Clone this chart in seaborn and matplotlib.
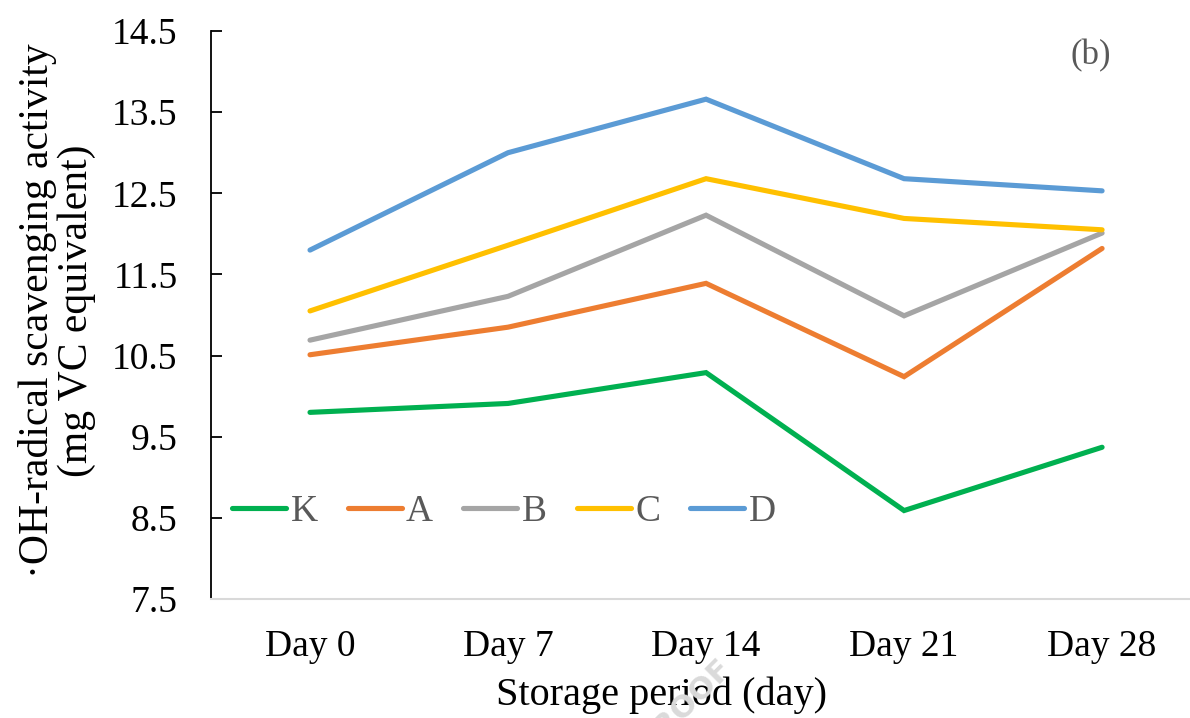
import matplotlib
matplotlib.use("Agg")
import matplotlib.pyplot as plt
import seaborn as sns
import pandas as pd

# Storage days and treatment groups
days = ["Day 0", "Day 7", "Day 14", "Day 21", "Day 28"]
groups = ["K", "A", "B", "C", "D"]

# ·OH-radical scavenging activity (mg VC equivalent)
k_vals = [9.80, 9.91, 10.29, 8.59, 9.37]
a_vals = [10.51, 10.85, 11.39, 10.24, 11.82]
b_vals = [10.69, 11.23, 12.23, 10.99, 12.01]
c_vals = [11.05, 11.86, 12.68, 12.19, 12.05]
d_vals = [11.80, 13.00, 13.66, 12.68, 12.53]

colors = ["#00B050", "#ED7D31", "#A5A5A5", "#FFC000", "#5B9BD5"]
y_ticks = [7.5, 8.5, 9.5, 10.5, 11.5, 12.5, 13.5, 14.5]

series = [k_vals, a_vals, b_vals, c_vals, d_vals]
df = pd.DataFrame({
    "day": [d for _ in groups for d in days],
    "group": [g for g in groups for _ in days],
    "value": [v for s in series for v in s],
})

sns.set_theme(style="white")
plt.rcParams["font.family"] = ["Liberation Serif", "DejaVu Serif"]

W, H = 1190, 718
fig = plt.figure(figsize=(W / 100, H / 100), dpi=100)
left, right, top, bottom = 211, 1190, 31, 599
ax = fig.add_axes([left / W, 1 - bottom / H, (right - left) / W, (bottom - top) / H])

sns.lineplot(data=df, x="day", y="value", hue="group", hue_order=groups,
             palette=colors, sort=False, linewidth=3.7, ax=ax,
             solid_capstyle="round", solid_joinstyle="miter")

ax.set_xlim(-0.5, 4.444)
ax.set_ylim(7.5, 14.5)
ax.set_yticks(y_ticks)
ax.set_yticklabels([f"{t:.1f}" for t in y_ticks])

for s in ["top", "right"]:
    ax.spines[s].set_visible(False)
ax.spines["left"].set_color("black")
ax.spines["left"].set_linewidth(1.3)
ax.spines["bottom"].set_color("#D9D9D9")
ax.spines["bottom"].set_linewidth(1.5)

ax.tick_params(axis="y", direction="in", length=8, width=1.3, color="black",
               labelsize=27, labelcolor="black", pad=24, left=True)
ax.tick_params(axis="x", length=0, labelsize=27, labelcolor="black", pad=22)

ax.set_xlabel("Storage period (day)", fontsize=29, color="black")
ax.xaxis.set_label_coords((661 - left) / (right - left), -(705 - bottom) / (bottom - top))
ax.xaxis.label.set_verticalalignment("baseline")

ax.set_ylabel("·OH-radical scavenging activity\n(mg VC equivalent)",
              fontsize=30, color="black", linespacing=1.0)
ax.yaxis.set_label_coords((57 - left) / (right - left), 0.5 + (315 - 311) / (bottom - top))
ax.yaxis.label.set_verticalalignment("center")

leg = ax.legend(loc="center left",
                bbox_to_anchor=((232 - left) / (right - left), (bottom - 512) / (bottom - top)),
                ncol=5, frameon=False, fontsize=27, handlelength=1.44,
                handletextpad=0.12, columnspacing=0.8, borderaxespad=0.0,
                borderpad=0.0)
for t in leg.get_texts():
    t.set_color("#595959")
for h in leg.get_lines():
    h.set_linewidth(3.7)
    h.set_solid_capstyle("round")

ax.text((1091 - left) / (right - left), (bottom - 56) / (bottom - top), "(b)",
        transform=ax.transAxes, fontsize=25, color="#595959",
        ha="center", va="center")

# faint watermark
fig.text(718 / W, 1 - 656 / H, "JOURNAL PRE-PROOF", fontsize=22,
         family="DejaVu Sans", weight="bold", color="#DADADA", rotation=45,
         rotation_mode="anchor", ha="right", va="top", zorder=0)

fig.savefig("out.png", dpi=100)
